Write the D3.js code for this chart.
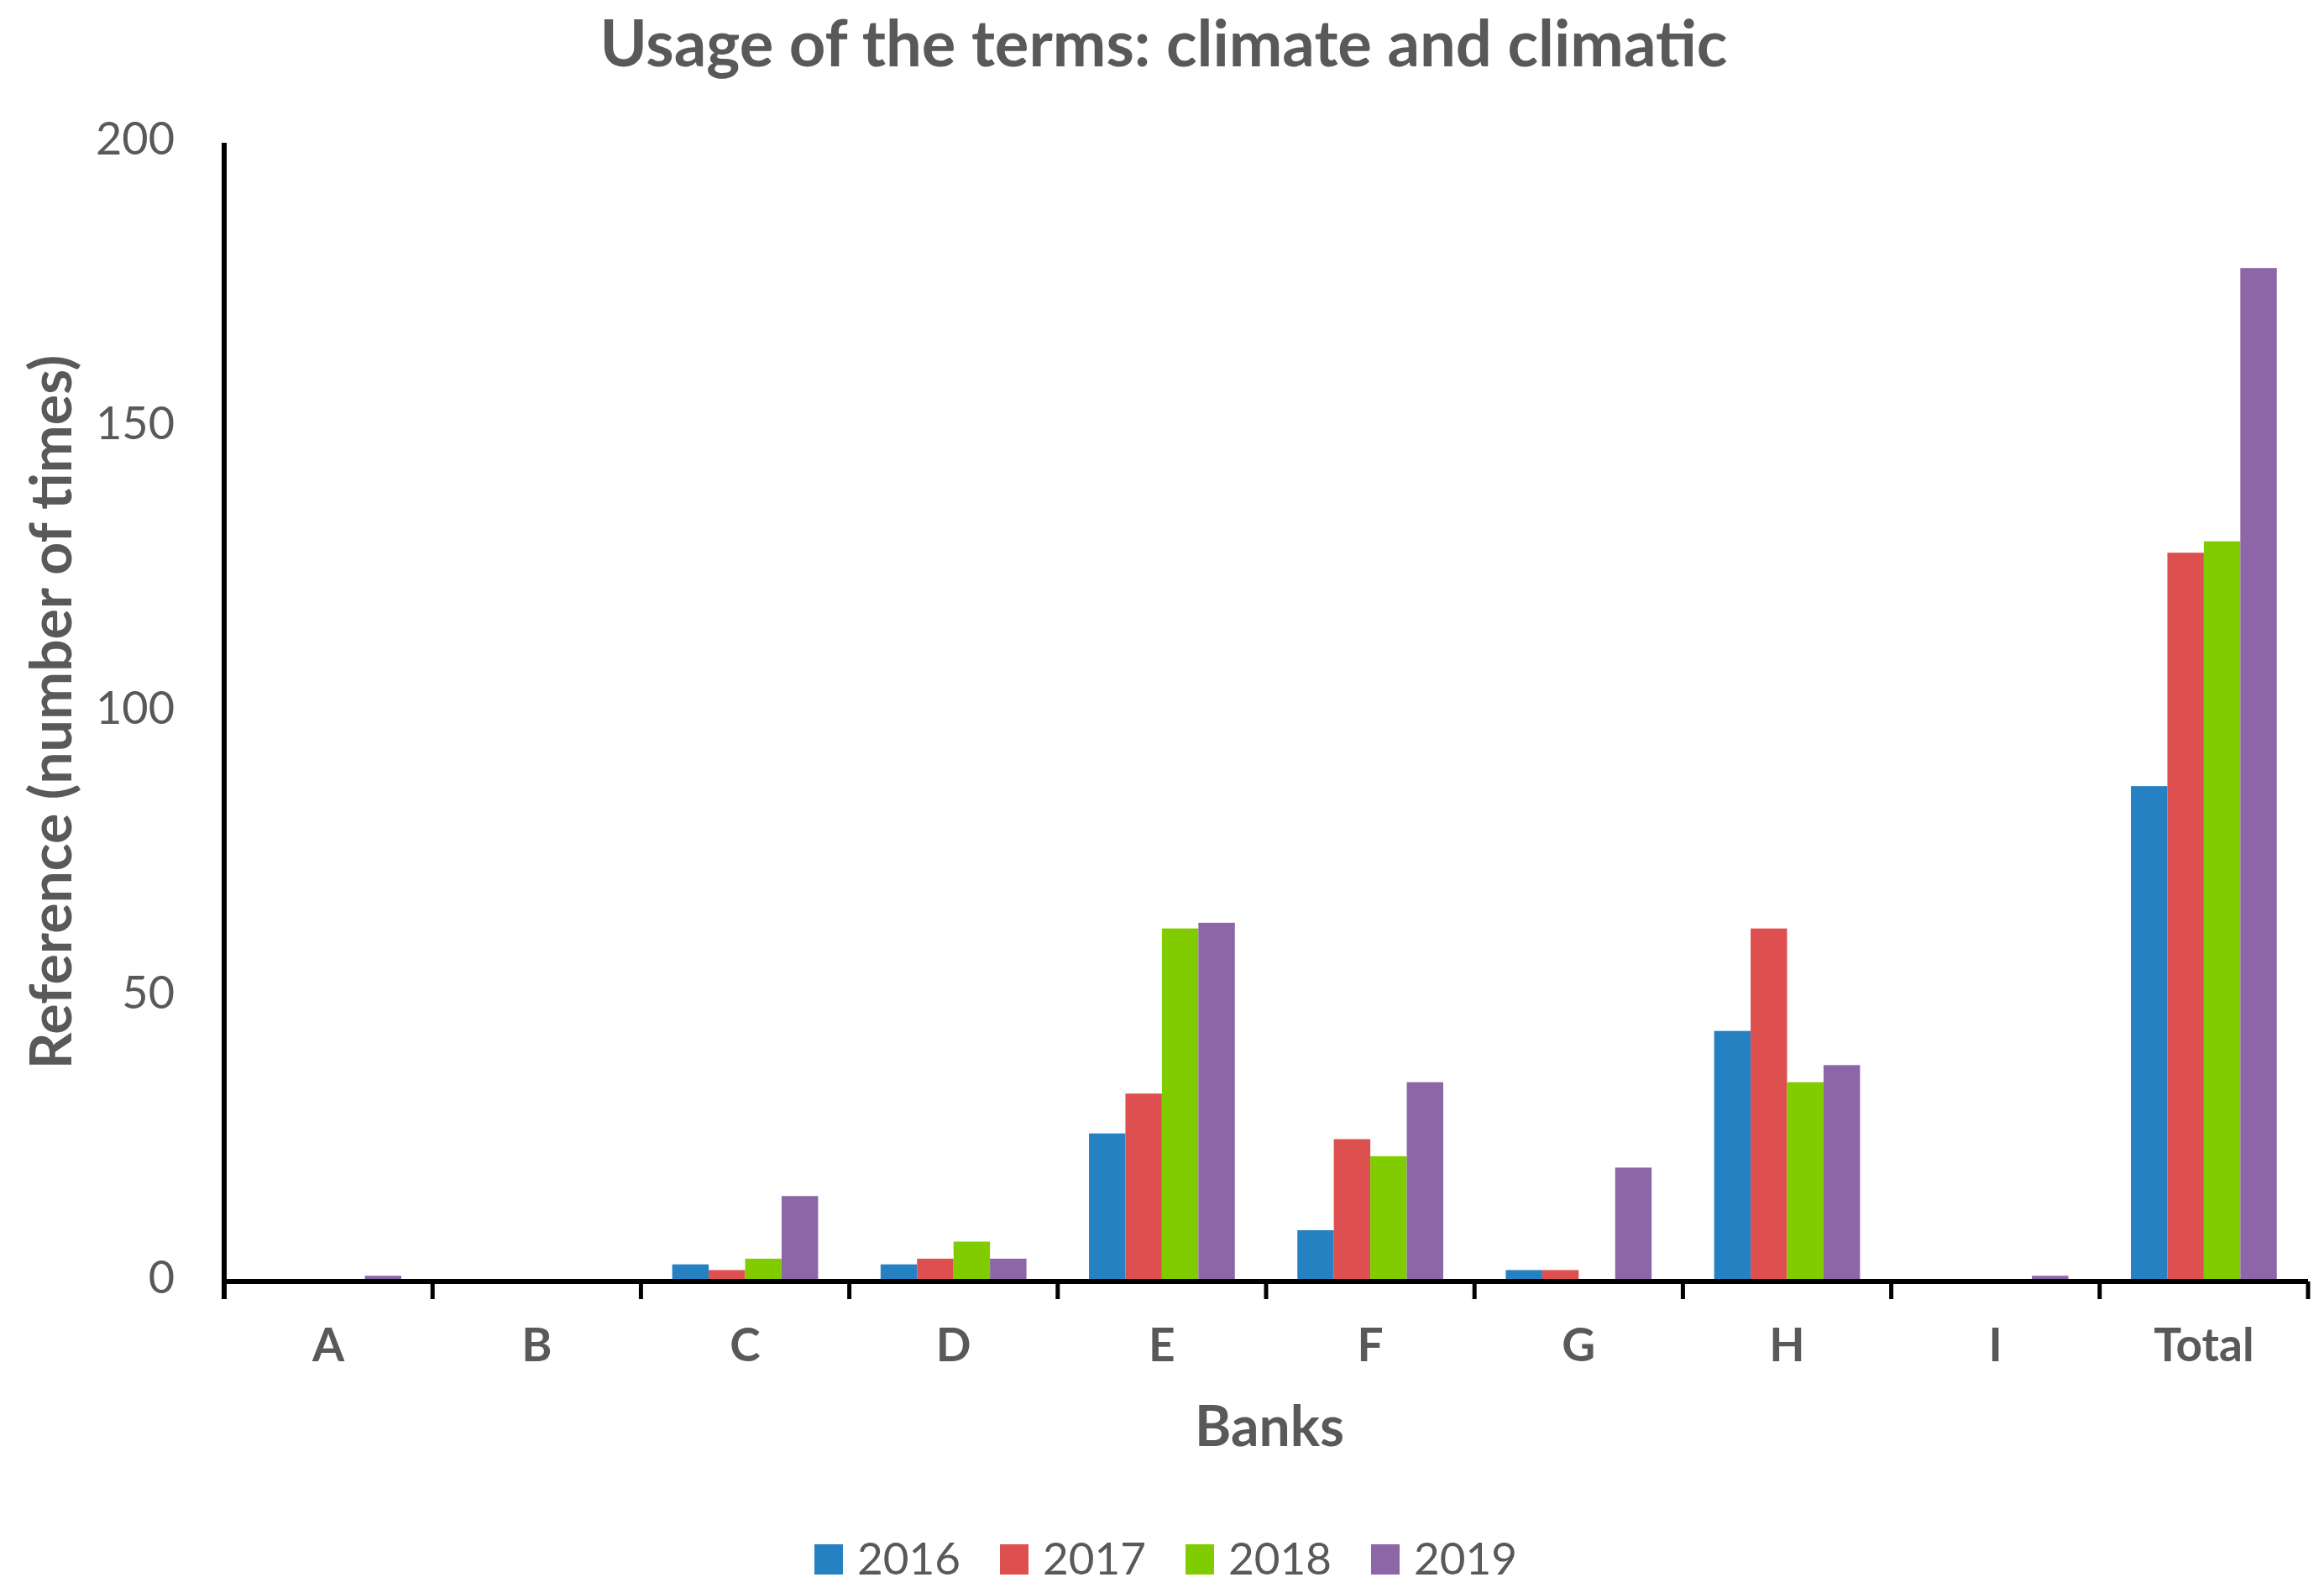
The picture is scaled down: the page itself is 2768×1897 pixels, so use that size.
<!DOCTYPE html>
<html>
<head>
<meta charset="utf-8">
<script src="https://cdn.jsdelivr.net/npm/d3@7"></script>
<style>
  html, body { margin: 0; padding: 0; background: #fff; }
  text { font-family: Lato, "Open Sans", sans-serif; fill: #595959; }
</style>
</head>
<body>
<div id="chart"></div>
<script>
const banks = ["A", "B", "C", "D", "E", "F", "G", "H", "I", "Total"];
const years = ["2016", "2017", "2018", "2019"];
const v2016 = [0, 0, 3, 3, 26, 9, 2, 44, 0, 87];
const v2017 = [0, 0, 2, 4, 33, 25, 2, 62, 0, 128];
const v2018 = [0, 0, 4, 7, 62, 22, 0, 35, 0, 130];
const v2019 = [1, 0, 15, 4, 63, 35, 20, 38, 1, 178];
const yTicks = [0, 50, 100, 150, 200];
const colors = ["#2581c1", "#de5050", "#80cc00", "#8c66a6"];

const series = [v2016, v2017, v2018, v2019];
const W = 2768, H = 1897;

const svg = d3.select("#chart").append("svg")
  .attr("width", W).attr("height", H)
  .attr("viewBox", `0 0 ${W} ${H}`);

const x = d3.scaleBand().domain(banks).range([267, 2749]);
const xs = d3.scaleBand().domain(years).range([0, x.bandwidth()]).paddingOuter(0.857);
const y = d3.scaleLinear().domain([0, 200]).range([1526, 170]);

// bars
const groups = svg.append("g").selectAll("g.bank")
  .data(banks)
  .enter().append("g")
  .attr("class", "bank")
  .attr("transform", d => `translate(${x(d)},0)`);

groups.selectAll("rect")
  .data((d, i) => years.map((yr, k) => ({ yr, v: series[k][i], k })))
  .enter().append("rect")
  .attr("x", d => xs(d.yr))
  .attr("width", xs.bandwidth())
  .attr("y", d => y(d.v))
  .attr("height", d => y(0) - y(d.v))
  .attr("fill", d => colors[d.k]);

// y axis
svg.append("line")
  .attr("x1", 267).attr("x2", 267)
  .attr("y1", y(200)).attr("y2", y(0) + 21)
  .attr("stroke", "#000").attr("stroke-width", 6);

const yAxis = svg.append("g")
  .attr("transform", "translate(267,0)")
  .call(d3.axisLeft(y).tickValues(yTicks).tickSize(0).tickPadding(59));
yAxis.select(".domain").remove();
yAxis.selectAll("text")
  .attr("dy", "0.25em")
  .attr("font-size", 54)
  .style("font-family", "Lato, sans-serif")
  .attr("fill", "#595959");

// x axis
const xAxis = svg.append("g")
  .attr("transform", `translate(0,${y(0)})`)
  .call(d3.axisBottom(x).tickSize(0).tickPadding(0));
xAxis.select(".domain").remove();
xAxis.selectAll("text")
  .attr("y", 95).attr("dy", 0)
  .attr("font-size", 55)
  .attr("font-weight", 700)
  .style("font-family", "Lato, sans-serif")
  .attr("fill", "#595959");

svg.append("line")
  .attr("x1", 267).attr("x2", 2749)
  .attr("y1", y(0)).attr("y2", y(0))
  .attr("stroke", "#000").attr("stroke-width", 6);

svg.append("g").selectAll("line")
  .data(banks.map(b => x(b)).concat([x.range()[1]]))
  .enter().append("line")
  .attr("x1", d => d).attr("x2", d => d)
  .attr("y1", y(0)).attr("y2", y(0) + 21)
  .attr("stroke", "#000").attr("stroke-width", 5);

// titles
svg.append("text")
  .attr("x", 1386).attr("y", 79)
  .attr("text-anchor", "middle")
  .attr("font-size", 76).attr("font-weight", 700)
  .text("Usage of the terms: climate and climatic");

svg.append("text")
  .attr("x", 1512).attr("y", 1722)
  .attr("text-anchor", "middle")
  .attr("font-size", 66).attr("font-weight", 700)
  .text("Banks");

svg.append("text")
  .attr("transform", "translate(58,848) rotate(-90)")
  .attr("text-anchor", "middle")
  .attr("dominant-baseline", "central")
  .attr("font-size", 68).attr("font-weight", 700)
  .text("Reference (number of times)");

// legend
const legendX = d3.scaleBand().domain(years).range([970, 1854]);
const legend = svg.append("g").selectAll("g")
  .data(years)
  .enter().append("g")
  .attr("transform", d => `translate(${legendX(d)},1839)`);
legend.append("rect")
  .attr("width", 34).attr("height", 36)
  .attr("fill", (d, i) => colors[i]);
legend.append("text")
  .attr("x", 51).attr("y", 36)
  .attr("font-size", 53)
  .text(d => d);
</script>
</body>
</html>
